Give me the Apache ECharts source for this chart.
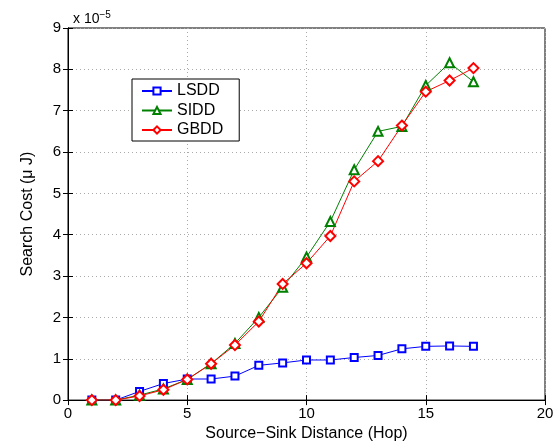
<!DOCTYPE html>
<html>
<head>
<meta charset="utf-8">
<script src="https://cdn.jsdelivr.net/npm/echarts@6/dist/echarts.min.js"></script>
<style>
  html, body { margin: 0; padding: 0; background: #fff; }
  #chart { width: 559px; height: 447px; }
</style>
</head>
<body>
<div id="chart"></div>
<script>
// hop counts and search cost (x 10^-5 uJ)
const hops = [1, 2, 3, 4, 5, 6, 7, 8, 9, 10, 11, 12, 13, 14, 15, 16, 17];
const lsdd = [0, 0, 0.21, 0.40, 0.51, 0.51, 0.58, 0.84, 0.90, 0.97, 0.97, 1.03, 1.08, 1.24, 1.30, 1.31, 1.30];
const sidd = [0, 0, 0.12, 0.27, 0.50, 0.88, 1.37, 2.00, 2.73, 3.46, 4.32, 5.57, 6.50, 6.62, 7.61, 8.16, 7.70];
const gbdd = [0, 0, 0.10, 0.25, 0.50, 0.88, 1.33, 1.90, 2.81, 3.31, 3.97, 5.29, 5.78, 6.64, 7.46, 7.73, 8.03];

const font = 'Liberation Sans';
const pairs = arr => hops.map((h, i) => [h, arr[i]]);

function mkSeries(name, data, color, symbol, size) {
  return {
    name: name,
    type: 'line',
    data: pairs(data),
    symbol: symbol,
    symbolSize: size,
    lineStyle: { color: color, width: 1 },
    itemStyle: { color: color, borderColor: color, borderWidth: 1 },
    animation: false
  };
}

const chart = echarts.init(document.getElementById('chart'));

const tickStyle = { inside: true, length: 5, lineStyle: { color: '#000' } };
const gridLine = { show: true, lineStyle: { color: '#aaa', type: [1, 3], width: 1 } };

chart.setOption({
  animation: false,
  title: {
    text: 'x 10{s|−5}',
    left: 68,
    top: 5,
    textStyle: {
      fontFamily: font, fontSize: 14, fontWeight: 'normal', color: '#000',
      rich: { s: { fontFamily: font, fontSize: 10, verticalAlign: 'top', padding: [0, 0, 8, 0] } }
    }
  },
  grid: { left: 68, right: 14, top: 28, bottom: 44, show: true, borderColor: '#000', borderWidth: 1 },
  legend: {
    orient: 'vertical',
    left: 132,
    top: 79,
    itemWidth: 30,
    itemHeight: 9,
    itemGap: 3.5,
    padding: [4, 16, 3, 9],
    borderColor: '#000',
    borderWidth: 1,
    backgroundColor: '#fff',
    textStyle: { fontFamily: font, fontSize: 16, color: '#000' },
    data: ['LSDD', 'SIDD', 'GBDD']
  },
  xAxis: [{
    type: 'value', min: 0, max: 20, interval: 5,
    name: 'Source−Sink Distance (Hop)',
    nameLocation: 'middle', nameGap: 22,
    nameTextStyle: { fontFamily: font, fontSize: 16, color: '#000' },
    axisLine: { show: true, lineStyle: { color: '#000' } },
    axisTick: tickStyle,
    axisLabel: { fontFamily: font, fontSize: 15, color: '#000', margin: 6 },
    splitLine: gridLine
  }, {
    type: 'value', min: 0, max: 20, interval: 5, position: 'top',
    axisLine: { show: true, lineStyle: { color: '#000' } },
    axisTick: tickStyle, axisLabel: { show: false }, splitLine: { show: false }
  }],
  yAxis: [{
    type: 'value', min: 0, max: 9, interval: 1,
    name: 'Search Cost (μ J)',
    nameLocation: 'middle', nameGap: 32,
    nameTextStyle: { fontFamily: font, fontSize: 16, color: '#000' },
    axisLine: { show: true, lineStyle: { color: '#000' } },
    axisTick: tickStyle,
    axisLabel: { fontFamily: font, fontSize: 15, color: '#000', margin: 7 },
    splitLine: gridLine
  }, {
    type: 'value', min: 0, max: 9, interval: 1, position: 'right',
    axisLine: { show: true, lineStyle: { color: '#000' } },
    axisTick: tickStyle, axisLabel: { show: false }, splitLine: { show: false }
  }],
  series: [
    mkSeries('LSDD', lsdd, '#0000ff', 'emptyRect', 7),
    mkSeries('SIDD', sidd, '#008000', 'emptyTriangle', 9),
    mkSeries('GBDD', gbdd, '#ff0000', 'emptyDiamond', 10)
  ]
});
</script>
</body>
</html>
